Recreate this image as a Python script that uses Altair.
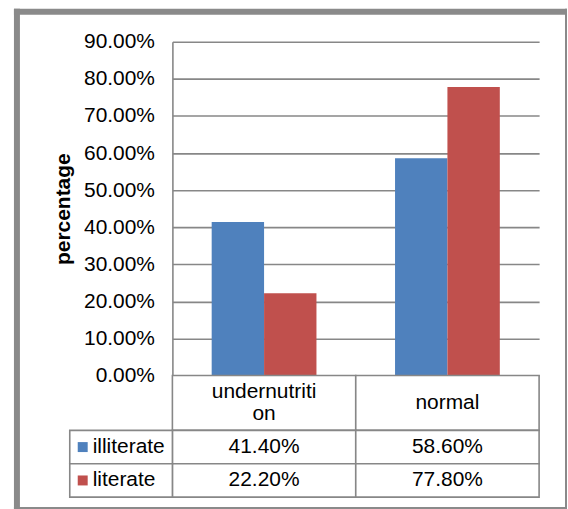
import altair as alt
import pandas as pd

# ---- data ----
categories = ["undernutrition", "normal"]
category_labels = [["undernutriti", "on"], ["normal"]]
series = ["illiterate", "literate"]
illiterate = [0.414, 0.586]
literate = [0.222, 0.778]
series_colors = ["#4F81BD", "#C0504D"]
y_ticks = [0.0, 0.1, 0.2, 0.3, 0.4, 0.5, 0.6, 0.7, 0.8, 0.9]

rows = []
for s, vals in zip(series, [illiterate, literate]):
    for c, v in zip(categories, vals):
        rows.append({"category": c, "series": s, "value": v})
df = pd.DataFrame(rows)
ser_df = pd.DataFrame({"series": series})

# ---- style ----
FONT = "Liberation Sans"
LINE = "#878787"
FRAME = "#8a8a8a"
FS = 21
LINE_H = 23
PLOT_W, PLOT_H = 368, 335
CAT_H, ROWS_H = 55, 67
HEAD_W = 103

# wrapped category captions, one record per text line, centred as a block
line_recs = []
for c, lines in zip(categories, category_labels):
    n = len(lines)
    for i, t in enumerate(lines):
        line_recs.append({"category": c, "line": t, "shift": (i - (n - 1) / 2) * LINE_H})
cat_lines = pd.DataFrame(line_recs)
cat_df = pd.DataFrame({"category": categories})

x_band = alt.X("category:N", sort=categories,
               scale=alt.Scale(domain=categories, paddingInner=0, paddingOuter=0),
               axis=None)
color = alt.Color("series:N", scale=alt.Scale(domain=series, range=series_colors), legend=None)

# clustered columns
bars = alt.Chart(df).mark_bar().encode(
    x=x_band,
    xOffset=alt.XOffset("series:N", sort=series,
                        scale=alt.Scale(domain=series, paddingInner=0, paddingOuter=0.75)),
    y=alt.Y("value:Q", scale=alt.Scale(domain=[0, 0.9], nice=False),
            axis=alt.Axis(values=y_ticks, format=".2%", title="percentage",
                          grid=True, gridColor=LINE, gridWidth=1.6,
                          domainColor=LINE, domainWidth=1.6, ticks=False,
                          labelPadding=18, labelFont=FONT, labelFontSize=FS,
                          labelColor="black", titleFont=FONT, titleFontSize=FS,
                          titleFontWeight="bold", titleColor="black", titlePadding=10)),
    color=color,
).properties(width=PLOT_W, height=PLOT_H)

# category header row of the data table
cat_cells = alt.Chart(cat_df).mark_rect(fill="white", stroke=LINE, strokeWidth=1.6).encode(
    x=x_band, y=alt.value(0), y2=alt.value(CAT_H))
cat_text = alt.Chart(cat_lines).mark_text(font=FONT, fontSize=FS, baseline="middle",
                                          color="black").encode(
    x=x_band, y=alt.value(CAT_H / 2),
    yOffset=alt.YOffset("shift:Q", scale=None), text="line:N")
cat_row = alt.layer(cat_cells, cat_text).properties(width=PLOT_W, height=CAT_H)

# value rows of the data table
y_rows = alt.Y("series:N", sort=series,
               scale=alt.Scale(domain=series, paddingInner=0, paddingOuter=0), axis=None)
cells = alt.Chart(df).mark_rect(fill="white", stroke=LINE, strokeWidth=1.6).encode(
    x=x_band, y=y_rows)
values = alt.Chart(df).mark_text(font=FONT, fontSize=FS, baseline="middle", color="black").encode(
    x=x_band, y=y_rows, text=alt.Text("value:Q", format=".2%"))
head_cells = alt.Chart(ser_df).mark_rect(fill="white", stroke=LINE, strokeWidth=1.6).encode(
    x=alt.value(-HEAD_W), x2=alt.value(0), y=y_rows)
head_keys = alt.Chart(ser_df).mark_point(shape="square", filled=True, size=100, opacity=1).encode(
    x=alt.value(-90), y=y_rows, color=color)
head_text = alt.Chart(ser_df).mark_text(font=FONT, fontSize=FS, align="left",
                                        baseline="middle", color="black").encode(
    x=alt.value(-80), y=y_rows, text="series:N")


# outer chart frame: heavy top/left edges, thin right/bottom edges
def frame_piece(x, x2, y, y2):
    return alt.Chart(alt.Data(values=[{}])).mark_rect(fill=FRAME).encode(
        x=alt.value(x), x2=alt.value(x2), y=alt.value(y), y2=alt.value(y2))


# offsets relative to the value-row block origin (172, 430)
ox, oy = 172, 430
frame = [
    frame_piece(13 - ox, 568 - ox, 7 - oy, 13 - oy),
    frame_piece(13 - ox, 19 - ox, 7 - oy, 509 - oy),
    frame_piece(566 - ox, 568 - ox, 7 - oy, 509 - oy),
    frame_piece(13 - ox, 568 - ox, 507 - oy, 509 - oy),
]

table_rows = alt.layer(cells, values, head_cells, head_keys, head_text, *frame).properties(
    width=PLOT_W, height=ROWS_H)

chart = alt.vconcat(bars, cat_row, table_rows, spacing=0, bounds="flush").properties(
    padding={"left": 13, "top": 7, "right": 0, "bottom": 0},
    background="white",
).configure_view(stroke="transparent")

chart.save("out.html", embed_options={"renderer": "svg", "actions": False})
